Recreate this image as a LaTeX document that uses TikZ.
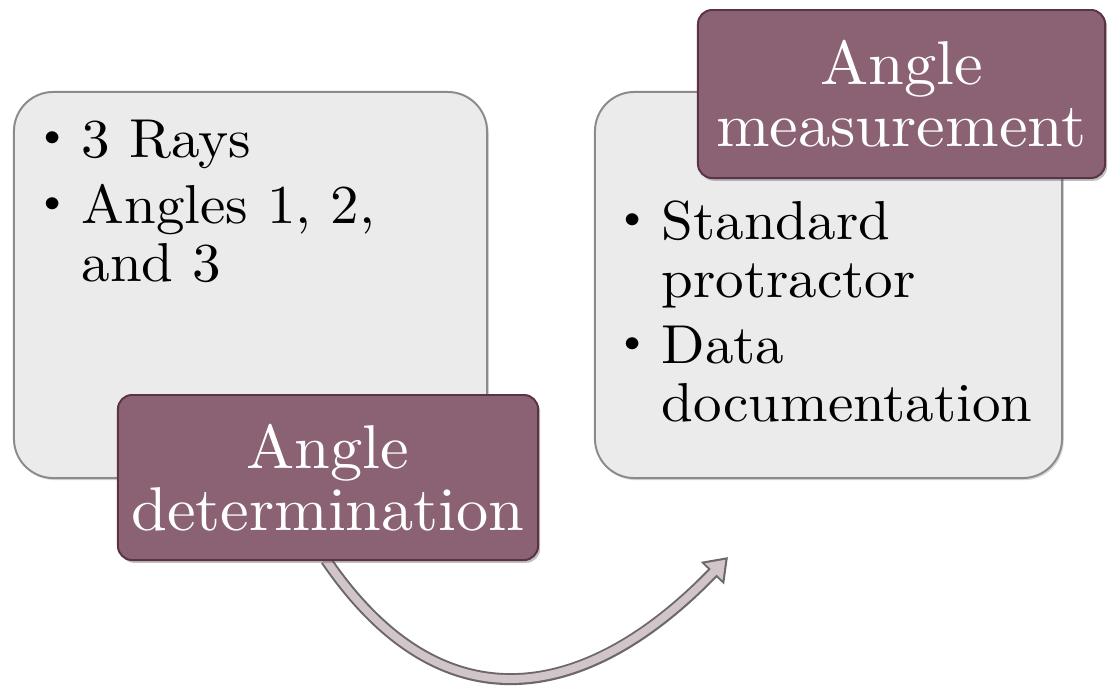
\documentclass[tikz,border=0pt]{standalone}
\usepackage{fontspec}
\setmainfont{lmroman10-regular.otf}[FakeStretch=1.04]
\usetikzlibrary{arrows.meta,shadows}

\definecolor{panelfill}{HTML}{EBEBEB}
\definecolor{panelline}{HTML}{8E898C}
\definecolor{plum}{HTML}{8B6273}
\definecolor{plumline}{HTML}{5B3346}
\definecolor{arcfill}{HTML}{D2C5CA}
\definecolor{arcline}{HTML}{6C686A}

\newcommand{\dotmark}{\raisebox{7pt}{\fontsize{30}{30}\selectfont\textbullet}}

\tikzset{
    panel/.style={draw=panelline, fill=panelfill, line width=1.4pt, rounded corners=28pt,
        drop shadow={shadow xshift=1.2pt, shadow yshift=-1.5pt, opacity=0.25, fill=black!60}},
    tag/.style={draw=plumline, fill=plum, line width=1.4pt, rounded corners=10pt,
        text=white, align=center, inner sep=0pt, font=\fontsize{44}{44}\selectfont,
        drop shadow={shadow xshift=1.5pt, shadow yshift=-2pt, opacity=0.35, fill=black!70}},
    items/.style={anchor=north west, inner sep=0pt, font=\fontsize{39}{41}\selectfont},
}

\begin{document}
\begin{tikzpicture}[x=0.025cm, y=-0.025cm]
    \useasboundingbox (0,0) rectangle (1108,687);

    % panels
    \node [panel, minimum width=11.825cm, minimum height=9.65cm] (left) at (250.5,285) {};
    \node [panel, minimum width=11.675cm, minimum height=9.65cm] (right) at (828.5,285) {};

    % bullet lists
    \node [items] (leftitems) at (35,117) {%
        \begin{tabular}{@{}p{33pt}@{}l@{}}
            \dotmark & 3 Rays\\[6pt]
            \dotmark & Angles 1, 2,\\
                     & and 3
        \end{tabular}};
    \node [items] (rightitems) at (615,199) {%
        \begin{tabular}{@{}p{33pt}@{}l@{}}
            \dotmark & Standard\\
                     & protractor\\[6pt]
            \dotmark & Data\\
                     & documentation
        \end{tabular}};

    % arrow
    \coordinate (det) at (326,560);
    \coordinate (tip) at (728,557);
    \draw [arcline, line width=8.5pt, -{Triangle[length=16pt, width=22pt]}]
        (det) .. controls (446,736) and (593,697) .. (tip);
    \draw [arcfill, line width=5.6pt, -{Triangle[length=12pt, width=16.5pt]}, shorten >=2.6pt]
        (det) .. controls (446,736) and (593,697) .. (tip);

    % tags
    \node [tag, minimum width=10.5cm, minimum height=4.125cm] (determination) at (328,477.5)
        {Angle\\determination};
    \node [tag, minimum width=10.175cm, minimum height=4.2cm] (measurement) at (901.5,94)
        {Angle\\measurement};
\end{tikzpicture}
\end{document}
